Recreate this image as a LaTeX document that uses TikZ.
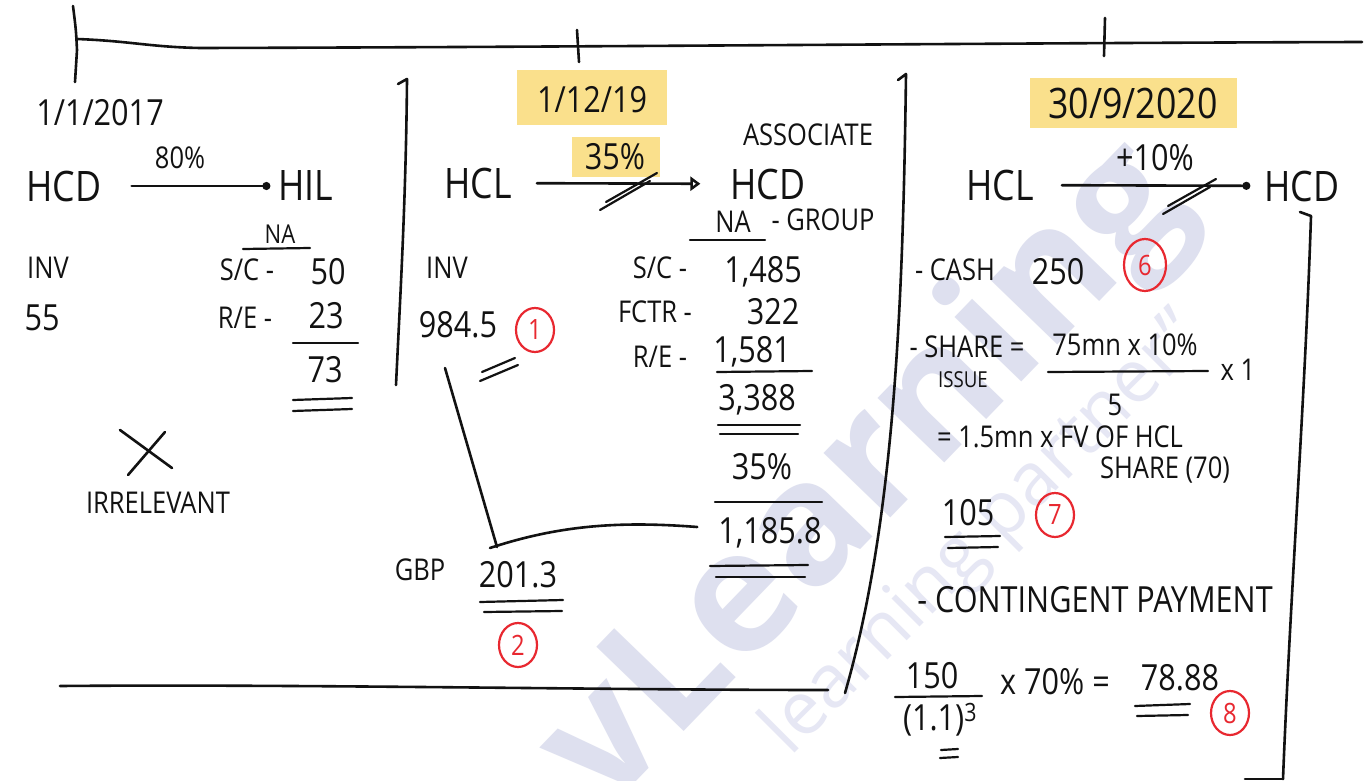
\documentclass[tikz,border=0pt]{standalone}
\usepackage{fontspec}
\setmainfont{Open Sans}[FakeStretch=0.85]
\newfontfamily\wmfont{Open Sans}
\usetikzlibrary{arrows.meta,shapes.geometric}
\definecolor{ink}{RGB}{18,18,18}
\definecolor{markred}{RGB}{232,40,48}
\definecolor{hilite}{RGB}{250,224,140}
\definecolor{wmark}{RGB}{222,224,239}
\definecolor{wmarklight}{RGB}{230,231,244}

\begin{document}
\begin{tikzpicture}[x=1pt,y=-1pt,
  pen/.style={draw=ink,line width=2.6pt,line cap=round,line join=round},
  thin/.style={draw=ink,line width=2.2pt,line cap=round},
  lbl/.style={inner sep=0pt,text=ink,font=\fontsize{36}{38}\selectfont},
  big/.style={inner sep=0pt,text=ink,font=\fontsize{42}{44}\selectfont},
  small/.style={inner sep=0pt,text=ink,font=\fontsize{30}{32}\selectfont},
  tiny/.style={inner sep=0pt,text=ink,font=\fontsize{22}{24}\selectfont},
  redmark/.style={ellipse,draw=markred,line width=2.2pt,text=markred,inner sep=0pt,
    minimum width=38pt,minimum height=44pt,font=\fontsize{28}{30}\selectfont},
  dotend/.style={-{Circle[length=8pt]}},
  openend/.style={-{Triangle[open,length=10pt,width=14pt]}},
]
\useasboundingbox (0,0) rectangle (1368,781);
\fill[white] (0,0) rectangle (1368,781);

% background watermark
\node[rotate=46,text=wmark,inner sep=0pt,font=\wmfont\bfseries\fontsize{170}{170}\selectfont] (wmA) at (868,478) {vLearning};
\node[rotate=45,text=wmarklight,inner sep=0pt,font=\wmfont\fontsize{74}{74}\selectfont] (wmB) at (985,535) {learning partner”};

% time line
\draw[pen] (73,6) .. controls (76,30) .. (77,50) -- (75,82);
\draw[pen] (77,39) .. controls (130,41) and (150,47) .. (200,48) .. controls (600,47) and (1000,43) .. (1362,42);
\draw[pen] (577,30) -- (579,62);
\draw[pen] (1105,18) -- (1104,56);

% ---------- first date ----------
\node[lbl] (dA) at (100,113) {1/1/2017};
\node[big] (hcdA) at (64,186) {HCD};
\node[big] (hil) at (306,186) {HIL};
\node[small] (pA) at (180,158) {80\%};
\draw[pen,dotend,shorten <=30pt,shorten >=8pt] (hcdA) -- (hil);
\node[inner sep=0pt,text=ink,font=\fontsize{26}{28}\selectfont] (naA) at (280,234) {NA};
\draw[thin] (243,249) -- (310,248);
\node[small] (invA) at (48,268) {INV};
\node[lbl] (n55) at (42,318) {55};
\node[small] (scA) at (247,270) {S/C -};
\node[lbl] (v50) at (328,272) {50};
\node[small] (reA) at (245,318) {R/E -};
\node[lbl] (v23) at (326,316) {23};
\draw[thin] (293,343) -- (358,343);
\node[lbl] (v73) at (325,370) {73};
\draw[thin] (293,400) -- (352,398);
\draw[thin] (293,411) -- (352,409);
\draw[pen] (120,430) -- (172,468);
\draw[pen] (128,475) -- (165,432);
\node[small] (irr) at (158,503) {IRRELEVANT};

\draw[pen] (398,84) -- (407,79) .. controls (406,200) and (400,300) .. (396,385);

% ---------- second date ----------
\fill[hilite] (517,70) rectangle (667,125);
\node[lbl] (dB) at (592,100) {1/12/19};
\fill[hilite] (572,137) rectangle (660,177);
\node[lbl] (pB) at (615,157) {35\%};
\node[small] (assoc) at (808,135) {ASSOCIATE};
\node[big] (hclB) at (478,183) {HCL};
\node[big] (hcdB) at (768,184) {HCD};
\draw[pen,openend,shorten <=25pt,shorten >=30pt] (hclB) -- (hcdB);
\draw[thin] (600,210) -- (650,181);
\draw[thin] (606,202) -- (657,173);
\node[small] (naB) at (733,222) {NA};
\draw[thin] (690,240) -- (765,240);
\node[small] (grp) at (823,220) {- GROUP};
\node[small] (invB) at (447,268) {INV};
\node[small] (scB) at (660,268) {S/C -};
\node[lbl] (v1485) at (763,272) {1,485};
\node[small] (fctr) at (655,312) {FCTR -};
\node[lbl] (v322) at (773,312) {322};
\node[small] (reB) at (660,357) {R/E -};
\node[lbl] (v1581) at (752,352) {1,581};
\draw[thin] (717,372) -- (812,371);
\node[lbl] (v3388) at (757,400) {3,388};
\draw[thin] (718,425) -- (800,425);
\draw[thin] (720,434) -- (798,434);
\node[lbl] (pB2) at (762,467) {35\%};
\draw[thin] (715,502) -- (822,502);
\node[lbl] (v1185) at (770,533) {1,185.8};
\draw[thin] (710,566) -- (808,565);
\draw[thin] (716,577) -- (805,577);
\node[lbl] (v9845) at (458,325) {984.5};
\node[redmark] (c1) at (535,330) {1};
\draw[thin] (480,381) -- (518,365);
\draw[thin] (482,372) -- (515,358);
\coordinate (gw) at (497,547);
\draw[pen] ([shift={(-13,43)}]v9845.center) -- (gw);
\draw[pen] ([shift={(-7,1)}]gw) .. controls (560,525) and (620,521) .. ([shift={(-21,-6)}]v1185.west);
\node[small] (gbp) at (420,570) {GBP};
\node[lbl] (v2013) at (518,575) {201.3};
\draw[thin] (480,602) -- (563,600);
\draw[thin] (484,612) -- (562,611);
\node[redmark] (c2) at (518,645) {2};

\draw[pen] (898,80) -- (906,74) .. controls (903,300) and (895,520) .. (845,693);
\draw[pen] (60,686) .. controls (300,684) and (600,690) .. (828,690);

% ---------- third date ----------
\fill[hilite] (1030,78) rectangle (1237,128);
\node[big] (dC) at (1133,103) {30/9/2020};
\node[big] (hclC) at (1000,185) {HCL};
\node[big] (hcdC) at (1302,186) {HCD};
\draw[pen,dotend,shorten <=28pt,shorten >=14pt] (hclC) -- (hcdC);
\node[lbl] (pC) at (1155,158) {+10\%};
\draw[thin] (1163,214) -- (1210,187);
\draw[thin] (1168,206) -- (1216,179);
\draw[pen] (1300,212) -- (1311,216) .. controls (1305,400) and (1290,600) .. (1283,779);
\draw[pen] (1245,779) -- (1283,779);

\node[small] (cash) at (955,270) {- CASH};
\node[lbl] (v250) at (1058,272) {250};
\node[redmark,minimum width=42pt,minimum height=52pt] (c6) at (1145,265) {6};
\node[small] (share) at (967,347) {- SHARE =};
\node[tiny] (issue) at (963,380) {ISSUE};
\node[small] (num75) at (1125,345) {75mn x 10\%};
\draw[thin] (1048,372) -- (1208,371);
\node[small] (den5) at (1115,405) {5};
\node[small] (times1) at (1238,370) {x 1};
\node[small] (fv) at (1060,437) {= 1.5mn x FV OF HCL};
\node[small] (shr70) at (1165,470) {SHARE (70)};
\node[lbl] (v105) at (968,513) {105};
\draw[thin] (945,537) -- (1000,536);
\draw[thin] (948,548) -- (998,547);
\node[redmark] (c7) at (1055,515) {7};
\node[lbl] (cont) at (1095,600) {- CONTINGENT PAYMENT};
\node[lbl] (n150) at (932,676) {150};
\draw[thin] (895,697) -- (982,696);
\node[lbl] (disc) at (940,720) {(1.1)\textsuperscript{3}};
\draw[thin] (941,750) -- (958,749);
\draw[thin] (940,758) -- (958,757);
\node[lbl] (x70) at (1055,682) {x 70\% =};
\node[lbl] (v7888) at (1180,678) {78.88};
\draw[thin] (1135,706) -- (1190,704);
\draw[thin] (1137,716) -- (1188,715);
\node[redmark] (c8) at (1230,713) {8};
\end{tikzpicture}
\end{document}
